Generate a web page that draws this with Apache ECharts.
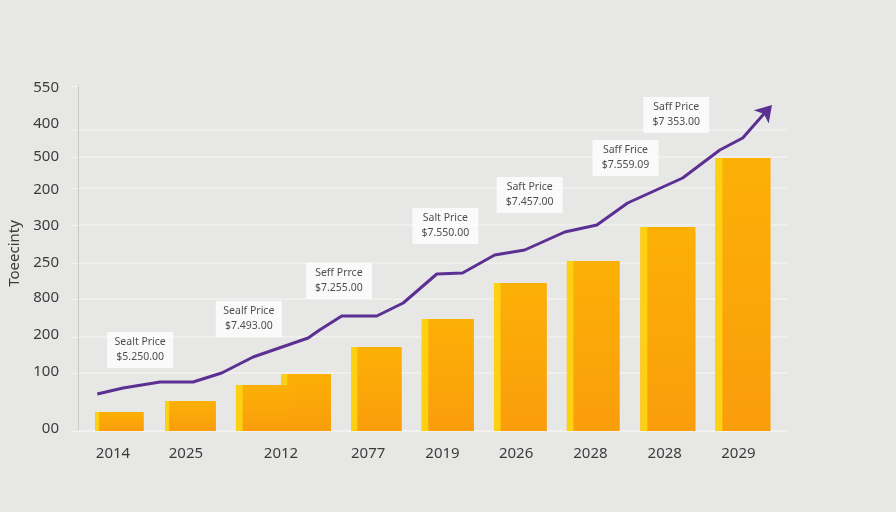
<!DOCTYPE html>
<html style="height: 100%">
<head>
    <meta charset="utf-8">
    <script src="https://cdn.jsdelivr.net/npm/echarts@6/dist/echarts.min.js"></script>
    <title>Salt Price</title>
</head>
<body style="height: 100%; margin: 0">
<div id="container" style="width: 896px; height: 512px"></div>
<script type="text/javascript">
// y labels in the picture are not in order, so the axis has its own reading scale
const yTickValues = [0, 58, 94, 132, 168, 206, 243, 274, 301, 345];
const yLabelValues = [2, 59, 96, 133, 168, 205, 241, 274, 307, 343];
const yTickLabels = ['00', '100', '200', '800', '250', '300', '200', '500', '400', '550'];

const xLabelValues = [0.49, 1.51, 2.84, 4.06, 5.1, 6.13, 7.17, 8.21, 9.24];
const xTickLabels = ['2014', '2025', '2012', '2077', '2019', '2026', '2028', '2028', '2029'];
const xTickValues = [0, 0.99, 2.06, 3.57, 4.61, 5.66, 6.70, 7.69, 8.74];

// bars: from / to on the x scale, height on the y scale
const barFrom = [0.24, 1.22, 2.21, 2.84, 3.82, 4.81, 5.82, 6.84, 7.87, 8.92];
const barTo = [0.92, 1.93, 2.96, 3.54, 4.53, 5.54, 6.56, 7.58, 8.64, 9.69];
const barValues = [19, 30, 46, 57, 84, 112, 148, 170, 204, 273];

const lineX = [0.27, 0.63, 1.15, 1.61, 2.01, 2.45, 3.22, 3.38, 3.69, 4.18, 4.55, 5.02, 5.38, 5.83, 6.25, 6.81, 7.26, 7.69, 8.46, 8.98, 9.30, 9.62];
const lineY = [37, 43, 49, 49, 58, 74, 93, 101, 115, 115, 128, 157, 158, 176, 181, 199, 206, 228, 253, 281, 293, 319];
const arrowTip = [9.71, 326];

const noteX = [0.87, 2.39, 3.65, 5.14, 6.32, 7.66, 8.37];
const noteY = [81, 112, 150, 205, 236, 273, 316];
const noteNames = ['Sealt Price', 'Sealf Price', 'Seff Prrce', 'Salt Price', 'Saft Price', 'Saff Frice', 'Saff Price'];
const notePrices = ['$5.250.00', '$7.493.00', '$7.255.00', '$7.550.00', '$7.457.00', '$7.559.09', '$7 353.00'];

const fontName = 'Noto Sans';

function renderBar(params, api) {
    let left = api.coord([api.value(0), api.value(2)]);
    let right = api.coord([api.value(1), 0]);
    let w = right[0] - left[0];
    let h = right[1] - left[1];
    let strip = h < 40 ? 4 : w * 0.125;
    // right hand bar goes under the left one, the 2012 pair overlaps
    let z = 100 - params.dataIndex;
    return {
        type: 'group',
        children: [
            {
                type: 'rect',
                z2: z,
                shape: { x: left[0], y: left[1], width: w, height: h },
                style: {
                    fill: {
                        type: 'linear', x: 0, y: 0, x2: 0, y2: 1,
                        colorStops: [
                            { offset: 0, color: '#fcb006' },
                            { offset: 1, color: '#fa9d0c' }
                        ]
                    }
                }
            },
            {
                type: 'rect',
                z2: z,
                shape: { x: left[0], y: left[1], width: strip, height: h },
                style: { fill: '#fdd112' }
            }
        ]
    };
}

let chart = echarts.init(document.getElementById('container'));
chart.setOption({
    backgroundColor: '#e7e7e6',
    animation: false,
    textStyle: { fontFamily: fontName },
    grid: { left: 78, right: 109, top: 86, bottom: 81, outerBoundsMode: 'none' },
    xAxis: {
        type: 'value',
        min: 0,
        max: 9.92,
        axisLine: { show: true, lineStyle: { color: '#f4f4f3', width: 1.5 } },
        axisTick: {
            show: true,
            customValues: xTickValues,
            length: 3,
            lineStyle: { color: '#f0f0ef', width: 1 }
        },
        splitLine: { show: false },
        axisLabel: {
            customValues: xLabelValues,
            margin: 15,
            fontSize: 15,
            color: '#3c3c3c',
            formatter: value => xTickLabels[xLabelValues.indexOf(value)]
        }
    },
    yAxis: {
        type: 'value',
        min: 0,
        max: 345,
        name: 'Toeecinty',
        nameLocation: 'middle',
        nameGap: 24,
        nameTextStyle: { fontSize: 15, color: '#3c3c3c', padding: [0, 0, 0, 10] },
        axisLine: { show: true, lineStyle: { color: '#c9c9c9', width: 1 } },
        axisTick: {
            show: true,
            customValues: yTickValues,
            length: 7,
            lineStyle: { color: '#f4f4f3', width: 1 }
        },
        splitLine: { show: true, showMaxLine: false, lineStyle: { color: '#f2f2f1', width: 1.5 } },
        axisLabel: {
            customValues: yLabelValues,
            margin: 19,
            fontSize: 15,
            color: '#3c3c3c',
            formatter: value => yTickLabels[yLabelValues.indexOf(value)]
        }
    },
    series: [
        {
            type: 'custom',
            renderItem: renderBar,
            encode: { x: [0, 1], y: 2 },
            data: barValues.map((v, i) => [barFrom[i], barTo[i], v]),
            z: 2
        },
        {
            type: 'line',
            data: lineX.map((x, i) => [x, lineY[i]]),
            symbol: 'none',
            lineStyle: { color: '#5c3092', width: 3 },
            z: 3
        },
        {
            // arrow head, the symbol's tip sits on the point
            type: 'scatter',
            data: [arrowTip],
            symbol: 'arrow',
            symbolSize: [15, 16],
            symbolRotate: -42,
            itemStyle: { color: '#5c3092', opacity: 1 },
            z: 3
        },
        {
            type: 'scatter',
            symbolSize: 0,
            data: noteX.map((x, i) => [x, noteY[i]]),
            label: {
                show: true,
                position: 'inside',
                formatter: p => noteNames[p.dataIndex] + '\n' + notePrices[p.dataIndex],
                width: 58,
                height: 30,
                align: 'center',
                verticalAlign: 'middle',
                lineHeight: 15,
                fontSize: 10.5,
                color: '#222222',
                backgroundColor: '#ffffff',
                padding: [3, 4]
            },
            z: 4
        }
    ]
}, true);
</script>
</body>
</html>
